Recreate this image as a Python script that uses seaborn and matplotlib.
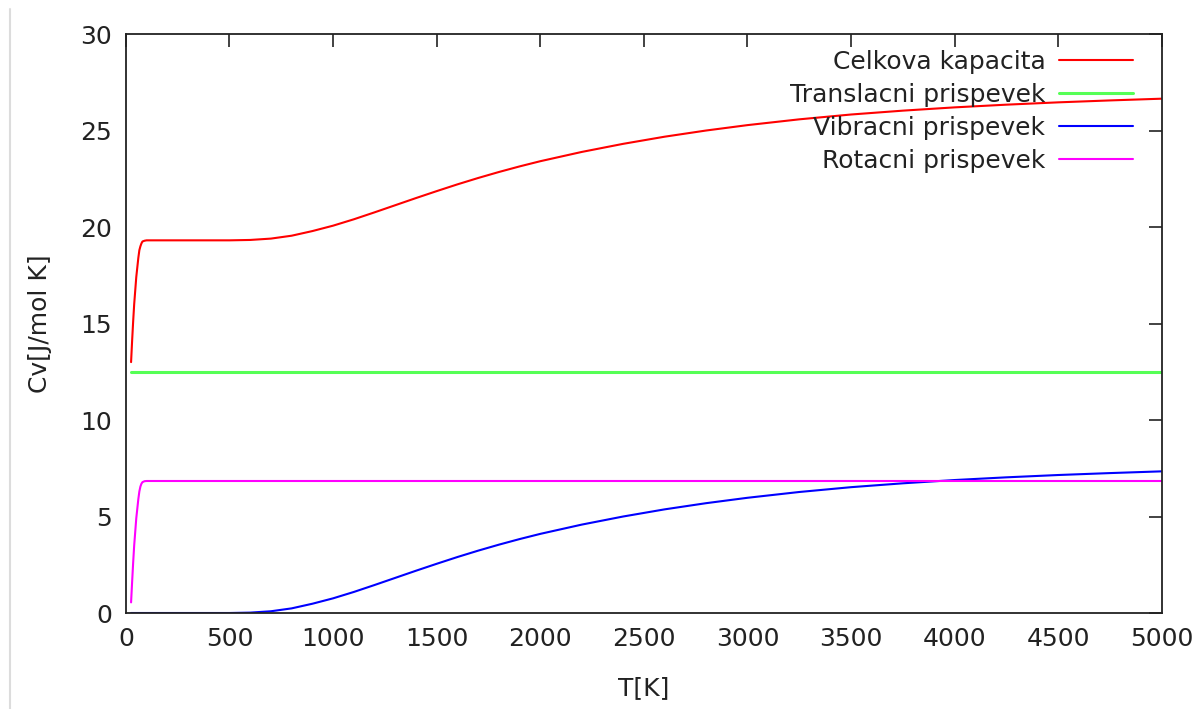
import numpy as np
import pandas as pd
import matplotlib
matplotlib.use("Agg")
import matplotlib.pyplot as plt
from matplotlib.lines import Line2D
import seaborn as sns

# ---- data ----
T_low = [25, 30, 35, 40, 45, 50, 55, 60, 65, 70, 75, 80, 90, 100]
rot_low = [0.55, 1.6, 2.6, 3.5, 4.2, 4.9, 5.4, 5.9, 6.3, 6.55, 6.7, 6.78, 6.83, 6.84]
tot_low = [13.0, 14.1, 15.1, 16.0, 16.7, 17.4, 17.9, 18.4, 18.8, 19.0, 19.15, 19.25, 19.29, 19.31]

T_high = [200, 300, 400, 500, 600, 700, 800, 900, 1000, 1100, 1200, 1300, 1400,
          1500, 1600, 1700, 1800, 1900, 2000, 2200, 2400, 2600, 2800, 3000,
          3250, 3500, 3750, 4000, 4250, 4500, 4750, 5000]
vib_high = [0.0, 0.0, 0.0, 0.0, 0.02, 0.09, 0.24, 0.48, 0.76, 1.09, 1.45, 1.82, 2.19,
            2.55, 2.90, 3.23, 3.54, 3.83, 4.10, 4.58, 5.00, 5.37, 5.69, 5.97,
            6.27, 6.52, 6.72, 6.89, 7.03, 7.15, 7.25, 7.34]
tot_high = [19.31, 19.31, 19.31, 19.31, 19.33, 19.40, 19.55, 19.79, 20.07, 20.40, 20.76,
            21.13, 21.50, 21.86, 22.21, 22.54, 22.85, 23.14, 23.41, 23.89, 24.31,
            24.68, 25.00, 25.28, 25.58, 25.83, 26.03, 26.20, 26.34, 26.46, 26.56, 26.65]
trans_value = 12.47
rot_value = 6.84

T = T_low + T_high
celk = tot_low + tot_high
trans = [trans_value] * len(T)
rot = rot_low + [rot_value] * len(T_high)
vib = [0.0] * len(T_low) + vib_high

labels = ["Celkova kapacita", "Translacni prispevek", "Vibracni prispevek", "Rotacni prispevek"]
colors = ["#ff0000", "#55ff55", "#0000ff", "#ff00ff"]

df = pd.DataFrame({"T": T * 4,
                   "Cv": celk + trans + vib + rot,
                   "serie": sum([[l] * len(T) for l in labels], [])})

# ---- plotting ----
sns.set_theme(style="white")
plt.rcParams["font.family"] = ["DejaVu Sans"]

fig = plt.figure(figsize=(11.99, 7.09), dpi=100)
ax = fig.add_axes([0.105, 0.1354, 0.864, 0.8166])

widths = {labels[0]: 1.5, labels[1]: 2.2, labels[2]: 1.5, labels[3]: 1.5}
for lab, col in zip(labels, colors):
    sub = df[df["serie"] == lab]
    sns.lineplot(data=sub, x="T", y="Cv", color=col, lw=widths[lab], ax=ax,
                 label=lab, estimator=None, sort=False)

ax.set_xlim(0, 5000)
ax.set_ylim(0, 30)
ax.set_xticks(np.arange(0, 5001, 500))
ax.set_yticks(np.arange(0, 31, 5))
ax.tick_params(direction="in", length=9.5, width=1.2, top=True, right=True,
               labelsize=18, pad=10, colors="#222222")
for s in ax.spines.values():
    s.set_color("#222222")
    s.set_linewidth(1.3)
    s.set_visible(True)

ax.set_xlabel("T[K]", fontsize=18, color="#222222", labelpad=18)
ax.set_ylabel("Cv[J/mol K]", fontsize=18, color="#222222", labelpad=20)

leg = ax.legend(loc="upper right", bbox_to_anchor=(0.972, 0.972), frameon=False,
                markerfirst=False, fontsize=18, handlelength=2.95, handletextpad=0.55,
                labelspacing=0.36, borderaxespad=0, borderpad=0)
for t in leg.get_texts():
    t.set_color("#222222")

# thin gray vertical line at the left edge of the screenshot
fig.add_artist(Line2D([0.0085, 0.0085], [0, 0.988], transform=fig.transFigure,
                      color="#dcdcdc", lw=1.5))

fig.savefig("out.png", dpi=100, facecolor="white")
